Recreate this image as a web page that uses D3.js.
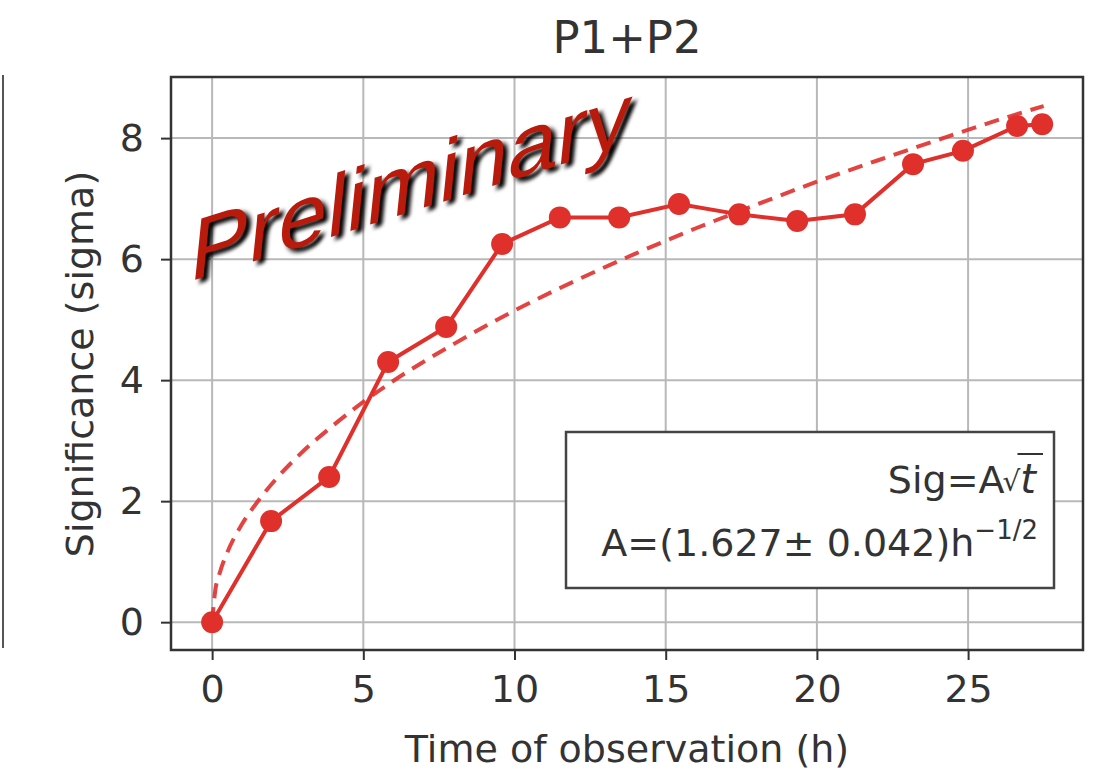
<html>
<head>
<meta charset="utf-8">
<style>
  body { margin: 0; background: #fff; }
  text { font-family: "DejaVu Sans", sans-serif; fill: #333; }
  .grid line { stroke: #b8b8b8; stroke-width: 2px; }
  .axis path { display: none; }
  .axis line { stroke: #333; stroke-width: 2px; }
  .axis text { font-size: 38px; fill: #333; }
  .meas { fill: none; stroke: #e0302c; stroke-width: 4px; }
  .fit { fill: none; stroke: #e0302c; stroke-width: 4px; stroke-dasharray: 15 9; opacity: 0.9; }
</style>
</head>
<body>
<svg width="1097" height="770"></svg>
<script src="https://d3js.org/d3.v7.min.js"></script>
<script>
// measured significance vs observation time
var times = [0, 1.95, 3.87, 5.82, 7.74, 9.59, 11.5, 13.46, 15.44, 17.43, 19.35, 21.26, 23.18, 24.83, 26.62, 27.45];
var sigma = [0, 1.67, 2.40, 4.30, 4.88, 6.25, 6.69, 6.69, 6.91, 6.74, 6.63, 6.74, 7.57, 7.79, 8.20, 8.23];

// dashed fit curve
var fitTimes = [0, 0.1, 0.25, 0.5, 1, 1.5, 2, 3, 4, 5, 6, 8, 10, 12, 14, 16, 18, 20, 22, 24, 26, 27.5];
var fitSigma = [0, 0.51, 0.81, 1.15, 1.63, 1.99, 2.30, 2.82, 3.25, 3.64, 3.99, 4.60, 5.15, 5.64, 6.09, 6.51, 6.90, 7.28, 7.63, 7.97, 8.30, 8.53];

var xTicks = [0, 5, 10, 15, 20, 25];
var yTicks = [0, 2, 4, 6, 8];

var svg = d3.select("svg");
var pLeft = 171, pRight = 1083, pTop = 77, pBottom = 650;

var x = d3.scaleLinear().domain([-1.36, 28.8]).range([pLeft, pRight]);
var y = d3.scaleLinear().domain([-0.46, 9.01]).range([pBottom, pTop]);

// piece of the neighbouring panel
svg.append("line")
  .attr("x1", 3).attr("x2", 3).attr("y1", 75).attr("y2", 648)
  .attr("stroke", "#555").attr("stroke-width", 2);

var grid = svg.append("g").attr("class", "grid");
grid.selectAll(".gx").data(xTicks).enter().append("line")
  .attr("x1", d => x(d)).attr("x2", d => x(d))
  .attr("y1", pTop).attr("y2", pBottom);
grid.selectAll(".gy").data(yTicks).enter().append("line")
  .attr("y1", d => y(d)).attr("y2", d => y(d))
  .attr("x1", pLeft).attr("x2", pRight);

svg.append("g")
  .attr("class", "axis")
  .attr("transform", "translate(0," + pBottom + ")")
  .call(d3.axisBottom(x).tickValues(xTicks).tickSize(10).tickPadding(15));

svg.append("g")
  .attr("class", "axis")
  .attr("transform", "translate(" + pLeft + ",0)")
  .call(d3.axisLeft(y).tickValues(yTicks).tickSize(10).tickPadding(17));

var line = d3.line()
  .x(function(d) { return x(d[0]); })
  .y(function(d) { return y(d[1]); });

svg.append("path")
  .datum(fitTimes.map((t, i) => [t, fitSigma[i]]))
  .attr("class", "fit")
  .attr("d", line.curve(d3.curveMonotoneX));

var pts = times.map((t, i) => [t, sigma[i]]);
svg.append("path")
  .datum(pts)
  .attr("class", "meas")
  .attr("d", d3.line().x(d => x(d[0])).y(d => y(d[1])));

svg.selectAll(".dot").data(pts).enter().append("circle")
  .attr("cx", d => x(d[0])).attr("cy", d => y(d[1]))
  .attr("r", 11).attr("fill", "#e0302c");

// frame
svg.append("rect")
  .attr("x", pLeft).attr("y", pTop)
  .attr("width", pRight - pLeft).attr("height", pBottom - pTop)
  .attr("fill", "none").attr("stroke", "#333").attr("stroke-width", 2.5);

// legend box
svg.append("rect")
  .attr("x", 566).attr("y", 432).attr("width", 488).attr("height", 156)
  .attr("fill", "#fff").attr("stroke", "#444").attr("stroke-width", 2.5);

var lx = 1036;
var tEl = svg.append("text")
  .attr("x", lx).attr("y", 493).attr("text-anchor", "end")
  .style("font-size", "40px").style("font-style", "italic").text("t");
var tBox = tEl.node().getBBox();
var rootEl = svg.append("text")
  .attr("x", tBox.x).attr("y", 491).attr("text-anchor", "end")
  .style("font-size", "28px").text("\u221A");
var rBox = rootEl.node().getBBox();
svg.append("text")
  .attr("x", rBox.x + 2).attr("y", 493).attr("text-anchor", "end")
  .style("font-size", "38px").text("Sig=A");
svg.append("line")
  .attr("x1", rBox.x + rBox.width - 3).attr("x2", lx + 7)
  .attr("y1", 454).attr("y2", 454)
  .attr("stroke", "#333").attr("stroke-width", 2);

var t2 = svg.append("text")
  .attr("x", lx + 2).attr("y", 556).attr("text-anchor", "end")
  .style("font-size", "38px");
t2.append("tspan").text("A=(1.627\u00B1 0.042)h");
t2.append("tspan").attr("dy", -17).style("font-size", "26px").text("\u22121/2");

// title and axis labels
svg.append("text")
  .attr("x", 627).attr("y", 53).attr("text-anchor", "middle")
  .style("font-size", "45px").text("P1+P2");

svg.append("text")
  .attr("x", 627).attr("y", 762).attr("text-anchor", "middle")
  .style("font-size", "38px").text("Time of observation (h)");

svg.append("text")
  .attr("transform", "translate(93,364) rotate(-90)")
  .attr("text-anchor", "middle")
  .style("font-size", "38px").text("Significance (sigma)");

// watermark
var defs = svg.append("defs");
defs.append("filter").attr("id", "blur")
  .attr("x", "-10%").attr("y", "-10%").attr("width", "120%").attr("height", "120%")
  .append("feGaussianBlur").attr("stdDeviation", 1.8);

var wm = svg.append("g").attr("transform", "translate(188,282) skewY(-17.5) skewX(-6)");
wm.append("text")
  .attr("x", 5).attr("y", 5)
  .attr("textLength", 440).attr("lengthAdjust", "spacingAndGlyphs")
  .attr("filter", "url(#blur)")
  .style("font-family", "'Liberation Sans', Arial, sans-serif")
  .style("font-size", "86px")
  .style("fill", "#000").text("Preliminary");
wm.append("text")
  .attr("textLength", 440).attr("lengthAdjust", "spacingAndGlyphs")
  .style("font-family", "'Liberation Sans', Arial, sans-serif")
  .style("font-size", "86px")
  .style("fill", "#b81a0c").text("Preliminary");
</script>
</body>
</html>
